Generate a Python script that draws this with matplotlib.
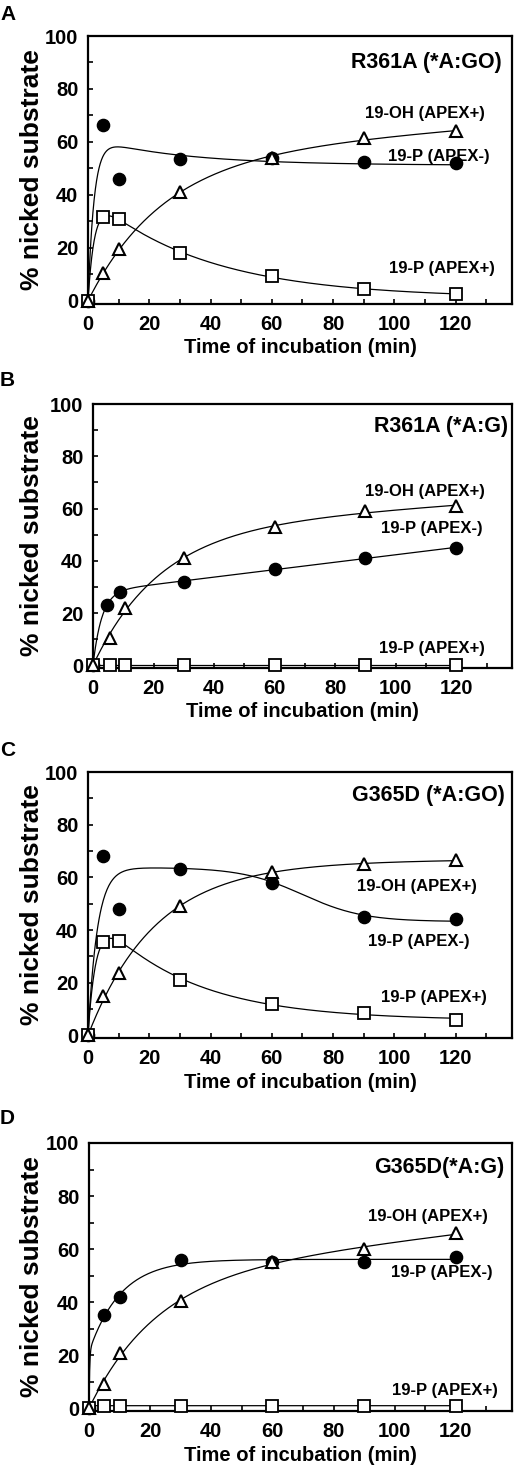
import numpy as np
import matplotlib
matplotlib.use("Agg")
import matplotlib.pyplot as plt

plt.rcParams['font.family'] = ['Liberation Sans', 'DejaVu Sans']
plt.rcParams['font.weight'] = 'bold'

# ---------------- data ----------------
panel_letters = ["A", "B", "C", "D"]
panel_titles = ["R361A (*A:GO)", "R361A (*A:G)", "G365D (*A:GO)", "G365D(*A:G)"]

xticks = [0, 20, 40, 60, 80, 100, 120]
yticks = [0, 20, 40, 60, 80, 100]
xlabel = "Time of incubation (min)"
ylabel = "% nicked substrate"
label_oh = "19-OH (APEX+)"
label_pminus = "19-P (APEX-)"
label_pplus = "19-P (APEX+)"

t_std = [0, 5, 10, 30, 60, 90, 120]

# Panel A
tA_minus = t_std
yA_minus = [0, 66.5, 46, 53.5, 54, 52.5, 52]
tA_oh = t_std
yA_oh = [0, 10.5, 19.5, 41, 54, 61.5, 64]
tA_plus = t_std
yA_plus = [0, 31.5, 31, 18, 9.5, 4.5, 2.5]

# Panel B
tB_minus = [0, 4.5, 9, 30, 60, 90, 120]
yB_minus = [0, 23, 28, 32, 37, 41, 45]
tB_oh = [0, 5.5, 10.5, 30, 60, 90, 120]
yB_oh = [0, 10.5, 22, 41, 53, 59, 61]
tB_plus = [0, 5.5, 10.5, 30, 60, 90, 120]
yB_plus = [0, 0, 0, 0, 0, 0, 0]

# Panel C
tC_minus = t_std
yC_minus = [0, 68, 48, 63, 58, 45, 44]
tC_oh = t_std
yC_oh = [0, 15, 23.5, 49, 62, 65, 66.5]
tC_plus = t_std
yC_plus = [0, 35.5, 36, 21, 12, 8.5, 6]

# Panel D
tD_minus = t_std
yD_minus = [0, 35, 42, 56, 55, 55, 57]
tD_oh = t_std
yD_oh = [0, 9, 21, 40.5, 55, 60, 66]
tD_plus = t_std
yD_plus = [0, 1, 1, 1, 1, 1, 1]


# ---------------- curve fitting (least squares on the read data) ----------------
def _sig(x):
    return 1.0 / (1.0 + np.exp(-x))


def fit_curve(t, y, kind, tt, kmax=5.0, k2max=5.0):
    t = np.asarray(t, float)
    y = np.asarray(y, float)
    ks = np.logspace(-2.5, np.log10(kmax), 70)
    best = (np.inf, None)

    def consider(basis_fn):
        nonlocal best
        X = basis_fn(t)
        coef, *_ = np.linalg.lstsq(X, y, rcond=None)
        r = np.sum((X @ coef - y) ** 2)
        if r < best[0]:
            best = (r, basis_fn(tt) @ coef)

    if kind == "rise":
        for k in ks:
            consider(lambda s, k=k: np.column_stack([1 - np.exp(-k * s), s]))
    elif kind == "rise2":
        for i, k1 in enumerate(ks):
            for k2 in ks[:i]:
                consider(lambda s, a=k1, b=k2: np.column_stack(
                    [1 - np.exp(-a * s), 1 - np.exp(-b * s)]))
    elif kind == "burst":
        for i, k1 in enumerate(ks):
            for k2 in ks[:i]:
                if k2 > k2max:
                    continue
                consider(lambda s, a=k1, b=k2: np.column_stack(
                    [np.exp(-b * s) - np.exp(-a * s), 1 - np.exp(-a * s)]))
    elif kind == "burst_sig":
        for k1 in ks[::2]:
            for t0 in np.arange(40, 111, 5):
                for w in [6, 8, 10, 13, 16, 20, 25]:
                    consider(lambda s, a=k1, c=t0, d=w: np.column_stack(
                        [1 - np.exp(-a * s), _sig((s - c) / d) - _sig(-c / d)]))
    if best[1] is None:
        return np.zeros_like(tt)
    return best[1]


panels = [
    dict(tm=tA_minus, ym=yA_minus, km="burst", kmm=0.5, k2m=0.035,
         to=tA_oh, yo=yA_oh, ko="rise",
         tp=tA_plus, yp=yA_plus, kp="burst",
         pos=[88 / 516, 1 - 303.5 / 1470, 424 / 516, 267.5 / 1470],
         lab_oh=(0.936, 0.71), lab_pm=(0.948, 0.55), lab_pp=(0.96, 0.13),
         title=(0.976, 0.90), letter_y=1 - 15 / 1470),
    dict(tm=tB_minus, ym=yB_minus, km="rise", kmm=5.0, k2m=5.0,
         to=tB_oh, yo=yB_oh, ko="rise",
         tp=tB_plus, yp=yB_plus, kp="rise",
         pos=[93 / 516, 1 - 668 / 1470, 419 / 516, 264 / 1470],
         lab_oh=(0.936, 0.667), lab_pm=(0.931, 0.53), lab_pp=(0.936, 0.072),
         title=(0.99, 0.913), letter_y=1 - 380 / 1470),
    dict(tm=tC_minus, ym=yC_minus, km="burst_sig", kmm=0.35, k2m=5.0,
         to=tC_oh, yo=yC_oh, ko="rise",
         tp=tC_plus, yp=yC_plus, kp="burst",
         pos=[88 / 516, 1 - 1038 / 1470, 424 / 516, 266 / 1470],
         lab_oh=(0.917, 0.571), lab_pm=(0.90, 0.361), lab_pp=(0.94, 0.154),
         title=(0.983, 0.913), letter_y=1 - 750 / 1470),
    dict(tm=tD_minus, ym=yD_minus, km="rise2", kmm=5.0, k2m=5.0,
         to=tD_oh, yo=yD_oh, ko="rise",
         tp=tD_plus, yp=yD_plus, kp="rise",
         pos=[89 / 516, 1 - 1411 / 1470, 423 / 516, 268 / 1470],
         lab_oh=(0.943, 0.724), lab_pm=(0.955, 0.515), lab_pp=(0.967, 0.078),
         title=(0.983, 0.91), letter_y=1 - 1118 / 1470),
]

fig = plt.figure(figsize=(5.16, 14.70), dpi=100)
tt = np.linspace(0, 120, 600)

for i, p in enumerate(panels):
    ax = fig.add_axes(p["pos"])
    ax.set_xlim(0, 138.4)
    ax.set_ylim(-1, 100)

    cm = fit_curve(p["tm"], p["ym"], p["km"], tt, kmax=p["kmm"], k2max=p["k2m"])
    co = fit_curve(p["to"], p["yo"], p["ko"], tt)
    cp = fit_curve(p["tp"], p["yp"], p["kp"], tt)
    for c in (cm, co, cp):
        ax.plot(tt, c, color="black", lw=0.9, zorder=2)

    ax.plot(p["tm"], p["ym"], ls="none", marker="o", ms=8.8, mfc="black",
            mec="black", mew=1, zorder=3, clip_on=False)
    ax.plot(p["tp"], p["yp"], ls="none", marker="s", ms=9, mfc="white",
            mec="black", mew=1.3, zorder=4, clip_on=False)
    ax.plot(p["to"], p["yo"], ls="none", marker="^", ms=8.5, mfc="white",
            mec="black", mew=1.5, zorder=5, clip_on=False)

    ax.set_xticks(xticks)
    ax.set_xticks(np.arange(0, 131, 10), minor=True)
    ax.set_yticks(yticks)
    ax.set_yticks(np.arange(0, 101, 10), minor=True)
    ax.tick_params(which="both", direction="in", length=3.5, width=1.2,
                   top=False, right=False)
    ax.tick_params(axis="y", which="major", labelsize=14.5, pad=7)
    ax.tick_params(axis="x", which="major", labelsize=14.5, pad=8)
    for lab in ax.get_xticklabels() + ax.get_yticklabels():
        lab.set_fontweight("bold")
    for s in ax.spines.values():
        s.set_linewidth(1.6)

    ax.set_xlabel(xlabel, fontsize=14.5, fontweight="bold")
    ax.xaxis.set_label_coords(0.5, -0.166)
    ax.xaxis.label.set_va("center")
    ax.set_ylabel(ylabel, fontsize=19, fontweight="bold")
    ax.yaxis.set_label_coords((32 - p["pos"][0] * 516) / (p["pos"][2] * 516), 0.5)
    ax.yaxis.label.set_va("center")

    ax.text(p["title"][0], p["title"][1], panel_titles[i], transform=ax.transAxes,
            ha="right", va="center", fontsize=15.5, fontweight="bold")
    ax.text(p["lab_oh"][0], p["lab_oh"][1], label_oh, transform=ax.transAxes,
            ha="right", va="center", fontsize=12, fontweight="bold")
    ax.text(p["lab_pm"][0], p["lab_pm"][1], label_pminus, transform=ax.transAxes,
            ha="right", va="center", fontsize=12, fontweight="bold")
    ax.text(p["lab_pp"][0], p["lab_pp"][1], label_pplus, transform=ax.transAxes,
            ha="right", va="center", fontsize=12, fontweight="bold")

    fig.text(0.0, p["letter_y"], panel_letters[i], ha="left", va="center",
             fontsize=15, fontweight="bold")

fig.savefig("out.png", dpi=100)
